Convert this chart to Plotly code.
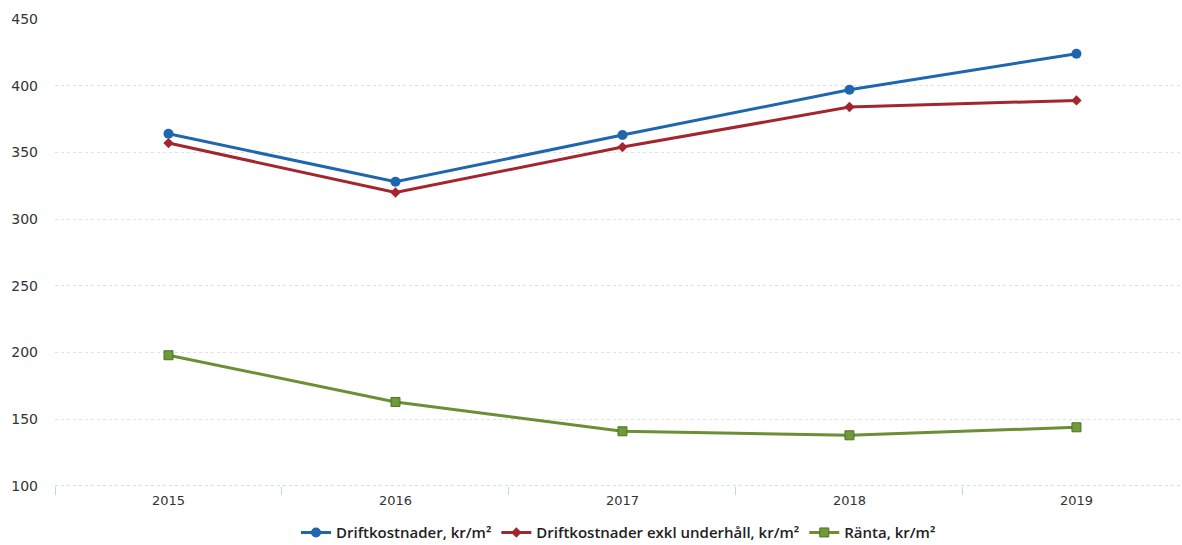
import plotly.graph_objects as go

years = ["2015", "2016", "2017", "2018", "2019"]
driftkostnader = [364, 328, 363, 397, 424]
drift_exkl_underhall = [357, 320, 354, 384, 389]
ranta = [198, 163, 141, 138, 144]

y_ticks = [100, 150, 200, 250, 300, 350, 400, 450]

fig = go.Figure()

fig.add_trace(go.Scatter(
    x=years, y=driftkostnader, mode="lines+markers",
    name="Driftkostnader, kr/m²",
    line=dict(color="#1f66b0", width=3),
    marker=dict(symbol="circle", size=10, color="#1f66b0"),
))
fig.add_trace(go.Scatter(
    x=years, y=drift_exkl_underhall, mode="lines+markers",
    name="Driftkostnader exkl underhåll, kr/m²",
    line=dict(color="#a3262f", width=3),
    marker=dict(symbol="diamond", size=8, color="#a3262f"),
))
fig.add_trace(go.Scatter(
    x=years, y=ranta, mode="lines+markers",
    name="Ränta, kr/m²",
    line=dict(color="#6a8f34", width=3),
    marker=dict(symbol="square", size=9, color="#6f9a3a",
                line=dict(color="#4f7227", width=1)),
))

# dotted baseline along the bottom of the plot
fig.add_shape(type="line", xref="paper", yref="y", x0=0, x1=1, y0=100, y1=100,
              line=dict(color="#8cc4e8", width=1, dash="dot"), layer="above")

fig.update_layout(
    width=1182, height=545,
    margin=dict(l=55, r=0, t=19, b=59, autoexpand=False),
    plot_bgcolor="white", paper_bgcolor="white",
    font=dict(family="DejaVu Sans", size=12, color="#333333"),
    showlegend=True,
    legend=dict(
        orientation="h", x=0.5, xanchor="center", y=-0.1, yanchor="middle",
        font=dict(family="Open Sans", size=15, color="#222222", weight=600),
        itemwidth=30, tracegroupgap=0, borderwidth=0,
    ),
    xaxis=dict(
        type="category", range=[-0.5, 4.465],
        showgrid=False, showline=False, zeroline=False,
        ticks="outside", tickson="boundaries", ticklen=8,
        tickcolor="#bcd6ea", tickfont=dict(size=13, color="#333333"),
        ticklabelstandoff=5,
    ),
    yaxis=dict(
        range=[100, 450], tickvals=y_ticks,
        showgrid=True, gridcolor="#dde1ea", griddash="dot", gridwidth=1,
        zeroline=False, showline=False,
        ticks="", ticklabelstandoff=16,
        tickfont=dict(size=14, color="#333333"),
    ),
)

fig.write_html("out.html")
